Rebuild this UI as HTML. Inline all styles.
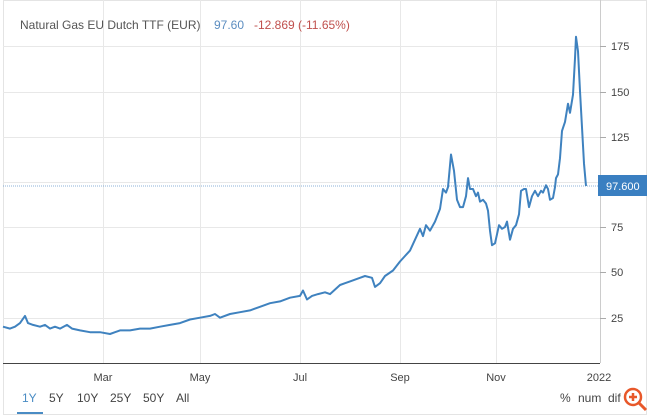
<!DOCTYPE html>
<html><head><meta charset="utf-8"><style>
body{margin:0;background:#fff;}
svg{display:block;font-family:"Liberation Sans",Arial,sans-serif;}
</style></head><body>
<svg width="650" height="417" viewBox="0 0 650 417">
<rect x="0" y="0" width="650" height="417" fill="#fff"/>
<rect x="3.5" y="0.5" width="643" height="414" fill="none" stroke="#e4e4e4"/>
<g stroke="#e8e8e8" stroke-width="1">
<line x1="103.5" y1="0" x2="103.5" y2="363"/>
<line x1="200.5" y1="0" x2="200.5" y2="363"/>
<line x1="300.5" y1="0" x2="300.5" y2="363"/>
<line x1="400.5" y1="0" x2="400.5" y2="363"/>
<line x1="496.5" y1="0" x2="496.5" y2="363"/>
<line x1="3" y1="46.5" x2="600" y2="46.5"/>
<line x1="3" y1="92.5" x2="600" y2="92.5"/>
<line x1="3" y1="137.5" x2="600" y2="137.5"/>
<line x1="3" y1="182.5" x2="600" y2="182.5"/>
<line x1="3" y1="227.5" x2="600" y2="227.5"/>
<line x1="3" y1="272.5" x2="600" y2="272.5"/>
<line x1="3" y1="318.5" x2="600" y2="318.5"/>
</g>
<line x1="600.5" y1="0" x2="600.5" y2="363" stroke="#ccc"/>
<line x1="3" y1="363.5" x2="600" y2="363.5" stroke="#444" stroke-width="1"/>
<g stroke="#aaa"><line x1="600" y1="46.5" x2="606" y2="46.5"/><line x1="600" y1="92.5" x2="606" y2="92.5"/><line x1="600" y1="137.5" x2="606" y2="137.5"/><line x1="600" y1="227.5" x2="606" y2="227.5"/><line x1="600" y1="272.5" x2="606" y2="272.5"/><line x1="600" y1="318.5" x2="606" y2="318.5"/></g>
<g font-size="11" fill="#444">
<text x="611" y="50">175</text><text x="611" y="96">150</text><text x="611" y="141">125</text>
<text x="611" y="231">75</text><text x="611" y="276">50</text><text x="611" y="322">25</text>
</g>
<line x1="3" y1="186" x2="598" y2="186" stroke="#6a9acb" stroke-width="0.8" stroke-dasharray="1,1"/>
<rect x="598" y="175" width="49" height="21" fill="#3a7fc1"/>
<text x="606" y="190" font-size="11" fill="#fff">97.600</text>
<text x="20" y="29" font-size="12" fill="#555">Natural Gas EU Dutch TTF (EUR)</text>
<text x="214" y="29" font-size="12" fill="#5b8dc0">97.60</text>
<text x="254" y="29" font-size="12" fill="#c0504d">-12.869 (-11.65%)</text>
<polyline fill="none" stroke="#3f82bf" stroke-width="2" stroke-linejoin="round" points="
3,326.7 10,328.6 15,326.7 20,323.1 25,315.9 28,323.1 33,324.9 40,326.7 45,324.9 50,328.6 55,326.7 60,328.6 67,324.9 72,328.6 80,330.4 90,332.2 100,332.2 110,334 115,332.2 120,330.4 130,330.4 140,328.6 150,328.6 160,326.7 170,324.9 180,323.1 190,319.5 200,317.7 210,315.9 215,314 220,317.7 230,314 240,312.2 250,310.4 260,306.8 270,303.2 280,301.4 290,297.7 300,295.9 303,290.5 307,299.5 312,295.9 318,294.1 325,292.3 330,294.1 340,285 345,283.2 350,281.4 360,277.8 365,276 372,277.8 375,286.9 380,283.2 385,276 393,270.5 400,261.5 405,256 410,250.6 415,239.7 420,228.8 423,236.1 426,225.2 430,230.7 435,221.6 440,208.9 443,189 446,192.6 448,187.1 451,154.5 454,170.8 457,199.8 460,207.1 463,207.1 466,196.2 468,178.1 470,189 473,189 476,196.2 478,192.6 480,201.6 483,199.8 486,203.5 488,210.7 490,230.7 492,245.2 495,243.3 497,234.3 499,225.2 502,228.8 505,227 507,221.6 510,239.7 513,228.8 516,225.2 519,214.3 521,190.8 524,189 526,189 529,207.1 532,196.2 535,190.8 538,196.2 541,190.8 543,192.6 546,185.3 548,189 550,199.8 553,198 555,187.1 556,178.1 558,174.4 560,158.1 562,130.9 565,121.9 568,103.7 570,112.8 573,94.7 575,58.4 576,36.7 578,51.2 580,91.1 582,127.3 584,163.6 586,186"/>
<g font-size="11" fill="#444" text-anchor="middle">
<text x="103" y="381">Mar</text><text x="200" y="381">May</text><text x="300" y="381">Jul</text>
<text x="400" y="381">Sep</text><text x="496" y="381">Nov</text><text x="599" y="381">2022</text>
</g>
<g font-size="12" fill="#444">
<text x="22" y="402" fill="#4a8cc4">1Y</text><text x="49" y="402">5Y</text><text x="77" y="402">10Y</text>
<text x="110" y="402">25Y</text><text x="143" y="402">50Y</text><text x="176" y="402">All</text>
<text x="560" y="402">%</text><text x="578" y="402">num</text><text x="608" y="402">dif</text>
</g>
<line x1="17" y1="413" x2="43" y2="413" stroke="#4a8cc4" stroke-width="2"/>
<circle cx="633" cy="397" r="8" fill="#fff" stroke="#e8582a" stroke-width="2.5"/>
<line x1="639" y1="403" x2="646" y2="410" stroke="#e8582a" stroke-width="3"/>
<line x1="629" y1="397" x2="637" y2="397" stroke="#e8582a" stroke-width="2.5"/>
<line x1="633" y1="393" x2="633" y2="401" stroke="#e8582a" stroke-width="2.5"/>
</svg>
</body></html>
